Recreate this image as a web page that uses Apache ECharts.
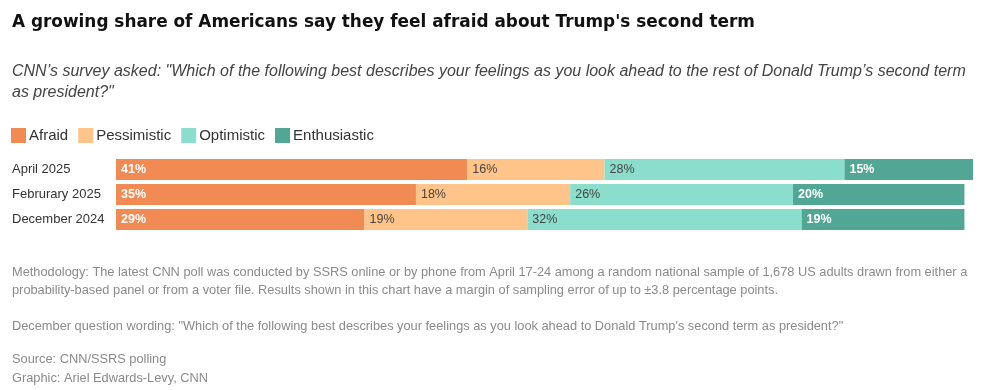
<!DOCTYPE html>
<html><head><meta charset="utf-8">
<script src="https://cdn.jsdelivr.net/npm/echarts@6/dist/echarts.min.js"></script>
<style>html,body{margin:0;padding:0;background:#fff}#c{width:981px;height:390px}</style>
</head><body><div id="c"></div>
<script>
const categories = ["April 2025", "Februrary 2025", "December 2024"];
const seriesNames = ["Afraid", "Pessimistic", "Optimistic", "Enthusiastic"];
const afraid = [41, 35, 29];
const pessimistic = [16, 18, 19];
const optimistic = [28, 26, 32];
const enthusiastic = [15, 20, 19];
const colors = ["#F18A53", "#FEC489", "#8ADECB", "#52A694"];
const labelColors = ["#ffffff", "#444444", "#444444", "#ffffff"];
const values = [afraid, pessimistic, optimistic, enthusiastic];

const FONT = "'Liberation Sans', Arial, sans-serif";
const chart = echarts.init(document.getElementById('c'), null, {renderer: 'canvas'});
chart.setOption({
  animation: false,
  textStyle: {fontFamily: FONT},
  title: [
    {text: "A growing share of Americans say they feel afraid about Trump's second term", left: 7, top: 9,
     textStyle: {fontFamily: "'DejaVu Sans', sans-serif", fontSize: 16.9, fontWeight: 'bold', color: '#111'}},
    {text: 'CNN\u2019s survey asked: "Which of the following best describes your feelings as you look ahead to the rest of Donald Trump\u2019s second term\nas president?"',
     left: 7, top: 56, textStyle: {fontFamily: FONT, fontSize: 16, fontStyle: 'italic', fontWeight: 'normal', color: '#444', lineHeight: 21}},
    {text: 'Methodology: The latest CNN poll was conducted by SSRS online or by phone from April 17-24 among a random national sample of 1,678 US adults drawn from either a\nprobability-based panel or from a voter file. Results shown in this chart have a margin of sampling error of up to \u00b13.8 percentage points.',
     left: 7, top: 258, textStyle: {fontFamily: FONT, fontSize: 12.8, fontWeight: 'normal', color: '#8a8a8a', lineHeight: 18}},
    {text: 'December question wording: "Which of the following best describes your feelings as you look ahead to Donald Trump\'s second term as president?"',
     left: 7, top: 315, textStyle: {fontFamily: FONT, fontSize: 12.8, fontWeight: 'normal', color: '#8a8a8a'}},
    {text: 'Source: CNN/SSRS polling\nGraphic: Ariel Edwards-Levy, CNN',
     left: 7, top: 345, textStyle: {fontFamily: FONT, fontSize: 12.8, fontWeight: 'normal', color: '#8a8a8a', lineHeight: 19}}
  ],
  legend: {
    left: 6, top: 123, icon: 'rect', itemWidth: 15, itemHeight: 15, itemGap: 10,
    selectedMode: false,
    textStyle: {fontFamily: FONT, fontSize: 15, color: '#333', padding: [0, 0, 0, -2]},
    data: seriesNames
  },
  grid: {left: 116, right: 8, top: 157, height: 75, containLabel: false},
  xAxis: {type: 'value', min: 0, max: 100, show: false},
  yAxis: {type: 'category', data: categories, inverse: true,
    axisLine: {show: false}, axisTick: {show: false},
    axisLabel: {align: 'left', margin: 104, fontFamily: FONT, fontSize: 13, color: '#333'}},
  series: seriesNames.map((name, i) => ({
    name, type: 'bar', stack: 'total', data: values[i], barWidth: 21,
    itemStyle: {color: colors[i]},
    label: {show: true, position: 'insideLeft', distance: 5, formatter: '{c}%',
      fontFamily: FONT, fontSize: 12.5, color: labelColors[i], fontWeight: (i === 0 || i === 3) ? 'bold' : 'normal'}
  }))
});
</script></body></html>
